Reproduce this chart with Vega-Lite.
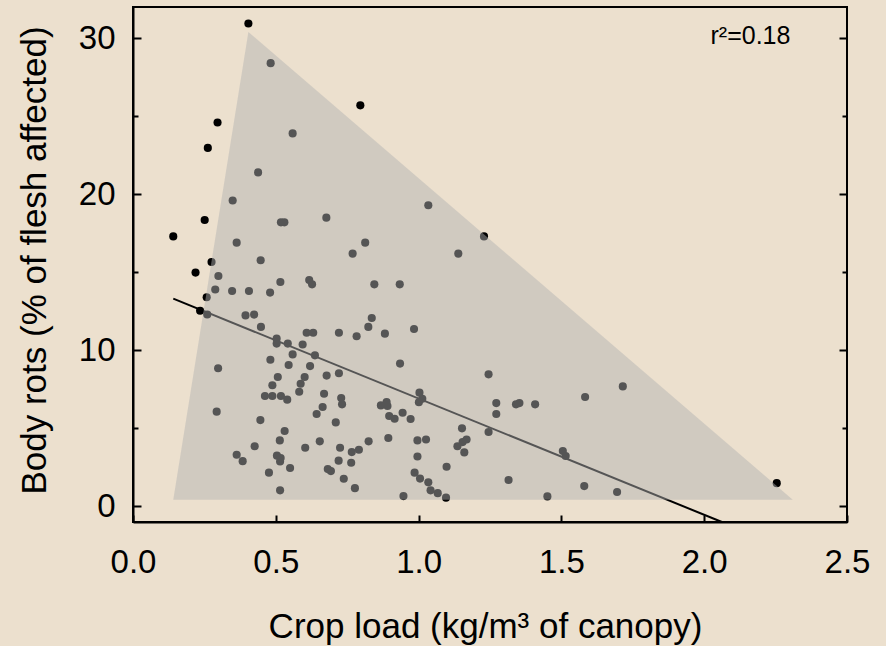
{
  "$schema": "https://vega.github.io/schema/vega-lite/v6.json",
  "autosize": {"type": "none"},
  "padding": {"left": 133, "top": 7, "right": 39, "bottom": 124},
  "width": 714,
  "height": 515,
  "background": "#ece0ce",
  "config": {
    "view": {"stroke": "black", "strokeWidth": 2},
    "font": "Liberation Sans",
    "axis": {"grid": false}
  },
  "datasets": {
    "pts": [
      {"x": 0.404, "y": 30.94}, {"x": 0.482, "y": 28.4}, {"x": 0.796, "y": 25.7}, {"x": 0.296, "y": 24.6},
      {"x": 0.559, "y": 23.9}, {"x": 0.262, "y": 22.97}, {"x": 0.438, "y": 21.4}, {"x": 0.349, "y": 19.6},
      {"x": 0.251, "y": 18.35}, {"x": 0.518, "y": 18.2}, {"x": 0.53, "y": 18.2}, {"x": 0.677, "y": 18.5},
      {"x": 0.141, "y": 17.3}, {"x": 0.363, "y": 16.9}, {"x": 0.813, "y": 16.9}, {"x": 0.769, "y": 16.2},
      {"x": 1.034, "y": 19.3}, {"x": 1.229, "y": 17.3}, {"x": 1.139, "y": 16.2},
      {"x": 0.447, "y": 15.77}, {"x": 0.275, "y": 15.66}, {"x": 0.219, "y": 14.98}, {"x": 0.299, "y": 14.76},
      {"x": 0.516, "y": 14.38}, {"x": 0.617, "y": 14.5}, {"x": 0.627, "y": 14.23}, {"x": 0.845, "y": 14.23},
      {"x": 0.934, "y": 14.23}, {"x": 0.288, "y": 13.9}, {"x": 0.347, "y": 13.8}, {"x": 0.406, "y": 13.8},
      {"x": 0.48, "y": 13.7}, {"x": 0.258, "y": 13.4}, {"x": 0.235, "y": 12.54}, {"x": 0.26, "y": 12.3},
      {"x": 0.394, "y": 12.24}, {"x": 0.424, "y": 12.29}, {"x": 0.448, "y": 11.5}, {"x": 0.836, "y": 12.07},
      {"x": 0.824, "y": 11.5}, {"x": 0.882, "y": 11.07}, {"x": 0.783, "y": 10.9}, {"x": 0.721, "y": 11.13},
      {"x": 0.608, "y": 11.13}, {"x": 0.631, "y": 11.13}, {"x": 0.503, "y": 10.75}, {"x": 0.503, "y": 10.43},
      {"x": 0.542, "y": 10.43}, {"x": 0.594, "y": 10.37}, {"x": 0.637, "y": 9.68}, {"x": 0.559, "y": 9.74},
      {"x": 0.481, "y": 9.4}, {"x": 0.935, "y": 9.15}, {"x": 0.545, "y": 9.06}, {"x": 0.62, "y": 8.99},
      {"x": 0.298, "y": 8.85}, {"x": 0.678, "y": 8.38}, {"x": 0.721, "y": 8.53}, {"x": 0.507, "y": 8.29},
      {"x": 0.601, "y": 8.29}, {"x": 0.587, "y": 7.86}, {"x": 0.488, "y": 7.76}, {"x": 0.582, "y": 7.35},
      {"x": 0.669, "y": 7.22}, {"x": 0.462, "y": 7.07}, {"x": 0.488, "y": 7.07}, {"x": 0.518, "y": 7.07},
      {"x": 0.54, "y": 6.84}, {"x": 0.729, "y": 6.94}, {"x": 0.732, "y": 6.54}, {"x": 0.664, "y": 6.37},
      {"x": 0.643, "y": 5.92}, {"x": 0.868, "y": 6.47}, {"x": 0.888, "y": 6.69}, {"x": 0.891, "y": 6.43},
      {"x": 0.897, "y": 5.79}, {"x": 0.916, "y": 5.62}, {"x": 0.944, "y": 6.0}, {"x": 0.293, "y": 6.07},
      {"x": 0.446, "y": 5.53}, {"x": 0.71, "y": 5.38}, {"x": 0.531, "y": 4.83}, {"x": 0.514, "y": 4.23},
      {"x": 0.654, "y": 4.17}, {"x": 0.825, "y": 4.17}, {"x": 0.894, "y": 4.38}, {"x": 0.426, "y": 3.85},
      {"x": 0.603, "y": 3.76}, {"x": 0.725, "y": 3.76}, {"x": 0.766, "y": 3.48}, {"x": 0.791, "y": 3.63},
      {"x": 0.363, "y": 3.31}, {"x": 0.384, "y": 2.9}, {"x": 0.504, "y": 3.25}, {"x": 0.517, "y": 3.1},
      {"x": 0.515, "y": 2.88}, {"x": 0.55, "y": 2.46}, {"x": 0.476, "y": 2.16}, {"x": 0.72, "y": 2.93},
      {"x": 0.764, "y": 2.8}, {"x": 0.682, "y": 2.39}, {"x": 0.693, "y": 2.26}, {"x": 0.738, "y": 1.77},
      {"x": 0.777, "y": 1.17}, {"x": 0.515, "y": 1.03},
      {"x": 0.984, "y": 11.37}, {"x": 1.245, "y": 8.46}, {"x": 1.003, "y": 7.29}, {"x": 1.013, "y": 6.9},
      {"x": 1.001, "y": 6.67}, {"x": 0.972, "y": 5.6}, {"x": 1.272, "y": 6.62}, {"x": 1.272, "y": 5.92},
      {"x": 1.341, "y": 6.54}, {"x": 1.353, "y": 6.62}, {"x": 1.408, "y": 6.54}, {"x": 1.583, "y": 7.01},
      {"x": 1.715, "y": 7.69}, {"x": 0.996, "y": 4.23}, {"x": 1.026, "y": 4.29}, {"x": 1.152, "y": 5.0},
      {"x": 1.136, "y": 3.85}, {"x": 1.154, "y": 4.12}, {"x": 1.168, "y": 4.29}, {"x": 1.16, "y": 3.46},
      {"x": 1.245, "y": 4.77}, {"x": 1.505, "y": 3.55}, {"x": 1.515, "y": 3.23}, {"x": 0.996, "y": 3.2},
      {"x": 1.098, "y": 2.54}, {"x": 0.986, "y": 2.16}, {"x": 1.005, "y": 1.78}, {"x": 1.034, "y": 1.54},
      {"x": 1.042, "y": 1.03}, {"x": 1.067, "y": 0.85}, {"x": 1.096, "y": 0.56}, {"x": 1.315, "y": 1.69},
      {"x": 0.947, "y": 0.66}, {"x": 1.451, "y": 0.64}, {"x": 1.58, "y": 1.3}, {"x": 1.695, "y": 0.92},
      {"x": 2.254, "y": 1.49}
    ],
    "fit": [{"x": 0.141, "y": 13.31}, {"x": 2.062, "y": -1}],
    "hull": [
      {"x": 0.141, "y": 0.43, "ylo": 0.43},
      {"x": 0.404, "y": 30.4, "ylo": 0.43},
      {"x": 2.31, "y": 0.43, "ylo": 0.43}
    ],
    "note": [{"x": 2.162, "y": 29.66, "label": "r²=0.18"}]
  },
  "resolve": {"axis": {"y": "independent"}},
  "encoding": {
    "x": {
      "field": "x", "type": "quantitative",
      "scale": {"domain": [0, 2.5], "nice": false, "zero": false},
      "axis": {
        "orient": "bottom", "values": [0, 0.5, 1, 1.5, 2, 2.5], "format": ".1f",
        "tickSize": -7, "tickWidth": 2, "tickColor": "black",
        "domainColor": "black", "domainWidth": 2,
        "labelPadding": 31, "labelFontSize": 33, "labelFont": "Liberation Sans", "labelColor": "black",
        "labelFlush": false, "labelOverlap": false,
        "title": "Crop load (kg/m³ of canopy)", "titleFontSize": 35, "titleFont": "Liberation Sans",
        "titleFontWeight": "normal", "titleColor": "black",
        "titleX": 352, "titleY": 115, "titleBaseline": "alphabetic", "titleAlign": "center"
      }
    }
  },
  "layer": [
    {
      "data": {"name": "fit"},
      "mark": {"type": "line", "color": "black", "strokeWidth": 2},
      "encoding": {
        "y": {
          "field": "y", "type": "quantitative",
          "scale": {"domain": [-1, 32], "nice": false, "zero": false},
          "axis": {
            "orient": "left", "values": [0, 10, 20, 30],
            "tickSize": -8, "tickWidth": 2, "tickColor": "black",
            "domainColor": "black", "domainWidth": 2,
            "labelPadding": 26, "labelFontSize": 33, "labelFont": "Liberation Sans", "labelColor": "black",
            "labelOverlap": false,
            "title": "Body rots (% of flesh affected)", "titleFontSize": 35, "titleFont": "Liberation Sans",
            "titleFontWeight": "normal", "titleColor": "black",
            "titleX": -88, "titleY": 253, "titleAngle": 270, "titleBaseline": "alphabetic", "titleAlign": "center"
          }
        }
      }
    },
    {
      "data": {"name": "pts"},
      "mark": {"type": "point", "shape": "circle", "filled": true, "size": 66, "color": "black", "opacity": 1, "strokeWidth": 0},
      "encoding": {
        "y": {
          "field": "y", "type": "quantitative",
          "axis": {"orient": "left", "values": [5, 15, 25], "tickSize": -5, "tickWidth": 2, "tickColor": "black", "domain": false, "labels": false, "title": null}
        }
      }
    },
    {
      "data": {"name": "hull"},
      "mark": {"type": "area", "color": "#b1b1b1", "opacity": 0.48},
      "encoding": {
        "y": {
          "field": "y", "type": "quantitative",
          "axis": {"orient": "right", "values": [0, 10, 20, 30], "tickSize": -8, "tickWidth": 2, "tickColor": "black", "domain": false, "labels": false, "title": null}
        },
        "y2": {"field": "ylo"}
      }
    },
    {
      "data": {"name": "note"},
      "mark": {"type": "text", "fontSize": 25, "font": "Liberation Sans", "align": "center", "baseline": "alphabetic", "color": "black"},
      "encoding": {
        "y": {
          "field": "y", "type": "quantitative",
          "axis": {"orient": "right", "values": [5, 15, 25], "tickSize": -5, "tickWidth": 2, "tickColor": "black", "domain": false, "labels": false, "title": null}
        },
        "text": {"field": "label"}
      }
    }
  ]
}
